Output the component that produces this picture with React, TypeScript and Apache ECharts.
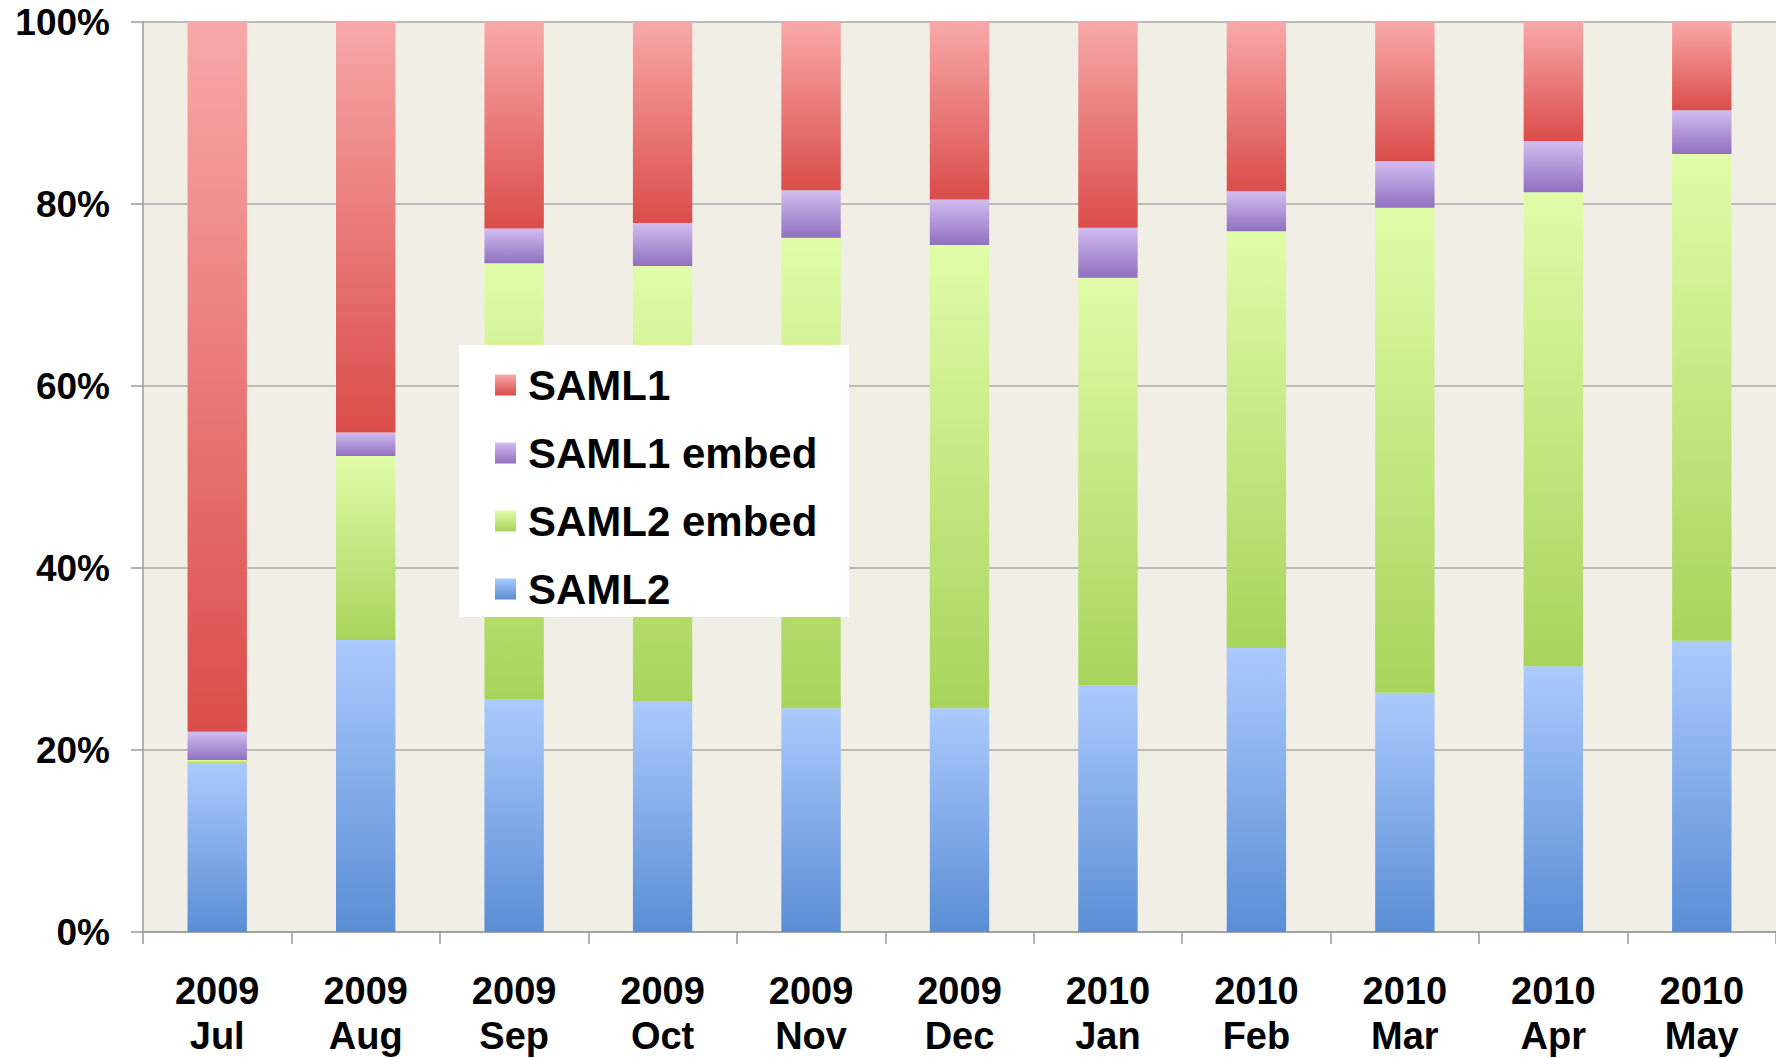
import React, { useEffect, useRef } from "react";
import * as echarts from "echarts";

const categories = [
  "2009\nJul", "2009\nAug", "2009\nSep", "2009\nOct", "2009\nNov", "2009\nDec",
  "2010\nJan", "2010\nFeb", "2010\nMar", "2010\nApr", "2010\nMay",
];
const saml2 = [18.5, 32.1, 25.6, 25.3, 24.6, 24.6, 27.1, 31.2, 26.3, 29.2, 32.0];
const saml2Embed = [0.4, 20.2, 47.9, 47.9, 51.7, 50.9, 44.8, 45.8, 53.3, 52.1, 53.5];
const saml1Embed = [3.1, 2.6, 3.8, 4.7, 5.2, 5.0, 5.5, 4.4, 5.1, 5.6, 4.8];
const saml1 = [78.0, 45.1, 22.7, 22.1, 18.5, 19.5, 22.6, 18.6, 15.3, 13.1, 9.7];
const legendOrder = ["SAML1", "SAML1 embed", "SAML2 embed", "SAML2"];

const grad = (top: string, bottom: string) =>
  new echarts.graphic.LinearGradient(0, 0, 0, 1, [
    { offset: 0, color: top },
    { offset: 1, color: bottom },
  ]);

export default function App() {
  const ref = useRef<HTMLDivElement>(null);
  useEffect(() => {
    if (!ref.current) return;
    const chart = echarts.init(ref.current, null, { renderer: "svg" });
    const font = "'Liberation Sans', Arial, Helvetica, sans-serif";
    const mk = (name: string, data: number[], top: string, bottom: string) => ({
      name,
      type: "bar",
      stack: "total",
      data,
      barWidth: "40%",
      itemStyle: { color: grad(top, bottom) },
    });
    chart.setOption({
      animation: false,
      backgroundColor: "#ffffff",
      grid: {
        left: 143,
        top: 22,
        width: 1642,
        height: 911,
        show: true,
        backgroundColor: "#f1eee6",
        borderWidth: 0,
      },
      xAxis: {
        type: "category",
        data: categories,
        axisLine: { show: true, lineStyle: { color: "#9a9a9a", width: 1.5 } },
        axisTick: { show: true, length: 12, lineStyle: { color: "#9a9a9a", width: 1.5 } },
        axisLabel: {
          margin: 36,
          fontFamily: font,
          fontWeight: "bold",
          fontSize: 38,
          lineHeight: 45,
          color: "#000",
        },
        splitLine: { show: false },
      },
      yAxis: {
        type: "value",
        min: 0,
        max: 100,
        interval: 20,
        axisLine: { show: true, lineStyle: { color: "#9a9a9a", width: 1.5 } },
        axisTick: { show: true, length: 12, lineStyle: { color: "#9a9a9a", width: 1.5 } },
        axisLabel: {
          formatter: "{value}%",
          margin: 33,
          fontFamily: font,
          fontWeight: "bold",
          fontSize: 37,
          color: "#000",
        },
        splitLine: { show: true, lineStyle: { color: "#a8a8a8", width: 1.5 } },
      },
      legend: {
        data: legendOrder,
        orient: "vertical",
        left: 495,
        top: 362,
        padding: 0,
        itemWidth: 21,
        itemHeight: 21,
        itemGap: 22,
        icon: "rect",
        textStyle: {
          fontFamily: font,
          fontWeight: "bold",
          fontSize: 42,
          lineHeight: 46,
          color: "#000",
          padding: [0, 0, 0, 7],
        },
      },
      graphic: [
        {
          type: "rect",
          z: 3,
          shape: { x: 459, y: 345, width: 390, height: 272 },
          style: { fill: "#ffffff" },
        },
      ],
      series: [
        mk("SAML2", saml2, "#abcafd", "#5a8ed5"),
        mk("SAML2 embed", saml2Embed, "#e0fca8", "#a8d45c"),
        mk("SAML1 embed", saml1Embed, "#d2bdf0", "#9070c0"),
        mk("SAML1", saml1, "#f8a8a8", "#da4d4a"),
      ],
    });
    return () => chart.dispose();
  }, []);
  return (
    <div
      ref={ref}
      style={{ position: "fixed", left: 0, top: 0, width: 1776, height: 1058 }}
    />
  );
}
